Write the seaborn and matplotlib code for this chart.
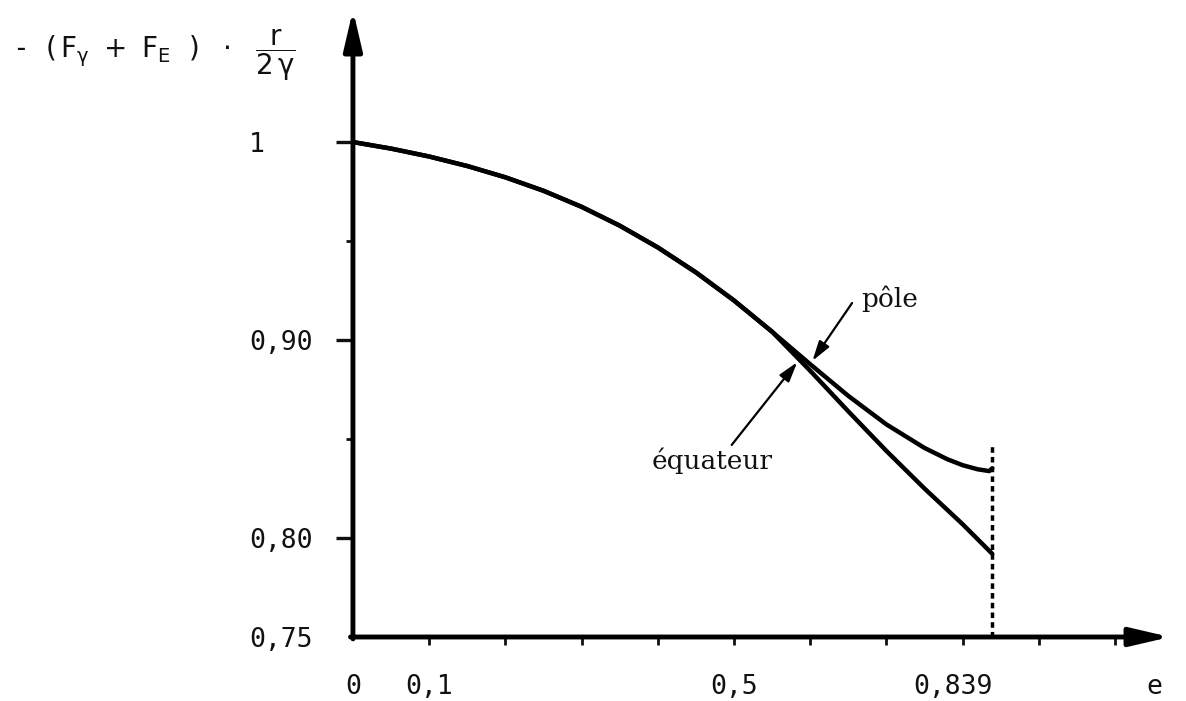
import matplotlib
matplotlib.use("Agg")
import matplotlib.pyplot as plt
import pandas as pd
import seaborn as sns

# valeurs
e_commun = [0.00, 0.05, 0.10, 0.15, 0.20, 0.25, 0.30, 0.35, 0.40, 0.45, 0.50, 0.55]
v_commun = [1.000, 0.9967, 0.9927, 0.9879, 0.9822, 0.9754, 0.9673, 0.9578,
            0.9468, 0.9342, 0.9200, 0.9042]
e_pole = [0.60, 0.65, 0.70, 0.75, 0.78, 0.80, 0.82, 0.835, 0.839]
v_pole = [0.8878, 0.8718, 0.8574, 0.8455, 0.8398, 0.8368, 0.8347, 0.8338, 0.8352]
e_equateur = [0.60, 0.65, 0.70, 0.75, 0.80, 0.839]
v_equateur = [0.8845, 0.8640, 0.8440, 0.8250, 0.8070, 0.7920]

e_limite = 0.839
v_limite_haut = 0.848

y_ticks = [1.0, 0.90, 0.80, 0.75]
y_labels = ['1', '0,90', '0,80', '0,75']
y_minor = [0.95, 0.85]
x_ticks = [0.0, 0.1, 0.5, 0.839, 1.052]
x_labels = ['0', '0,1', '0,5', '0,839', 'e']
x_minor = [0.1, 0.2, 0.3, 0.4, 0.5, 0.6, 0.7, 0.8, 0.9, 1.0]

rows = []
for nom, ee, vv in [('pôle', e_pole, v_pole), ('équateur', e_equateur, v_equateur)]:
    rows += [(a, b, nom) for a, b in zip(e_commun + ee, v_commun + vv)]
df = pd.DataFrame(rows, columns=['e', 'v', 'courbe'])

sns.set_style('white')
plt.rcParams['font.family'] = ['DejaVu Sans Mono', 'DejaVu Sans']
plt.rcParams['mathtext.fontset'] = 'dejavusans'
plt.rcParams['text.color'] = '#111111'
plt.rcParams['xtick.color'] = '#111111'
plt.rcParams['ytick.color'] = '#111111'

fig = plt.figure(figsize=(11.86, 7.01), dpi=100)
ax = fig.add_axes([0.2976, 0.0913, 0.6889, 0.8944])

sns.lineplot(data=df, x='e', y='v', hue='courbe',
             palette={'pôle': 'black', 'équateur': 'black'},
             lw=3.2, sort=False, estimator=None, legend=False, ax=ax)
ax.vlines(e_limite, 0.75, v_limite_haut, colors='black', lw=2.5,
          linestyles=(0, (1.6, 1.2)))

ax.set_xlim(0, 1.0722)
ax.set_ylim(0.75, 1.0667)
for s in ax.spines.values():
    s.set_visible(False)

# axes avec fleches
head = '-|>,head_length=1.2,head_width=0.28'
ax.annotate('', xy=(0, 1), xytext=(0, -0.003), xycoords='axes fraction',
            textcoords='axes fraction', annotation_clip=False,
            arrowprops=dict(arrowstyle=head, lw=3.5, color='black',
                            shrinkA=0, shrinkB=0, mutation_scale=20))
ax.annotate('', xy=(1, 0), xytext=(-0.003, 0), xycoords='axes fraction',
            textcoords='axes fraction', annotation_clip=False,
            arrowprops=dict(arrowstyle=head, lw=3.5, color='black',
                            shrinkA=0, shrinkB=0, mutation_scale=20))

'''ticks y'''
ax.set_yticks(y_ticks, y_labels)
ax.set_yticks(y_minor, minor=True)
ax.tick_params(axis='y', which='both', left=True, direction='out')
ax.tick_params(axis='y', which='major', length=12, width=2.4, pad=63,
               labelsize=19)
ax.tick_params(axis='y', which='minor', length=5, width=2)
for lab in ax.get_yticklabels():
    lab.set_horizontalalignment('left')
ax.yaxis.get_major_ticks()[3].tick1line.set_visible(False)

'''ticks x'''
ax.xaxis.remove_overlapping_locs = False
ax.set_xticks(x_ticks, x_labels)
ax.set_xticks(x_minor, minor=True)
ax.tick_params(axis='x', which='both', bottom=True, direction='out')
ax.tick_params(axis='x', which='major', length=0, pad=27, labelsize=19)
ax.tick_params(axis='x', which='minor', length=6, width=2)
ax.get_xticklabels()[3].set_horizontalalignment('right')
ax.set(xlabel=None, ylabel=None)

# titre de l'axe y
fig.text(0.01, 0.921,
         r'- $(\,\mathrm{F}_{\mathrm{\gamma}}\ +\ \mathrm{F}_{\mathrm{E}}\ \ )\ \ \cdot\ \ \dfrac{\mathrm{r}}{2\,\mathrm{\gamma}}$',
         fontsize=20, ha='left', va='center')

# legendes des courbes
ax.text(0.705, 0.921, 'pôle', family='DejaVu Serif', fontsize=19,
        ha='center', va='center')
ax.text(0.471, 0.839, 'équateur', family='DejaVu Serif', fontsize=19,
        ha='center', va='center')
fl = dict(arrowstyle='-|>,head_length=0.6,head_width=0.18', lw=1.6,
          color='black', shrinkA=0, shrinkB=0, mutation_scale=20)
ax.annotate('', xy=(0.603, 0.8895), xytext=(0.655, 0.9187), arrowprops=fl)
ax.annotate('', xy=(0.583, 0.8888), xytext=(0.497, 0.847), arrowprops=fl)

fig.savefig('out.png', dpi=100)
